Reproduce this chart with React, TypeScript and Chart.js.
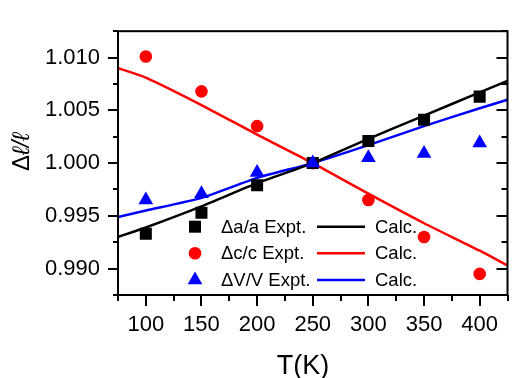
import React, { useEffect, useRef } from 'react';
import { Chart, registerables } from 'chart.js';

Chart.register(...registerables);

const FONT = '"Liberation Sans", Arial, sans-serif';

const temps = [100, 150, 200, 250, 300, 350, 400];
const daExpt = [0.9933, 0.9953, 0.9979, 1.0, 1.0021, 1.0041, 1.0063];
const dcExpt = [1.0101, 1.0068, 1.0035, 1.0, 0.9965, 0.993, 0.9895];
const dvExpt = [0.9965, 0.9971, 0.9991, 1.0, 1.0005, 1.0009, 1.0019];

const calcT = [75, 100, 150, 200, 250, 300, 350, 400, 425];
const daCalc = [0.993, 0.9939, 0.9959, 0.9981, 1.0, 1.0023, 1.0045, 1.0067, 1.0078];
const dcCalc = [1.009, 1.0081, 1.0055, 1.0027, 1.0, 0.9971, 0.9943, 0.9917, 0.9903];
const dvCalc = [0.9949, 0.9955, 0.9967, 0.9986, 1.0, 1.0017, 1.0035, 1.0052, 1.006];

const xTicks = [100, 150, 200, 250, 300, 350, 400];
const yTicks = [0.99, 0.995, 1.0, 1.005, 1.01];
const exptLabels = ['Δa/a Expt.', 'Δc/c Expt.', 'ΔV/V Expt.'];
const calcLabel = 'Calc.';
const xTitle = 'T(K)';

const colors = ['#000000', '#ff0000', '#0000ff'];
const shapes = ['rect', 'circle', 'triangle'];

const pts = (xs: number[], ys: number[]) => xs.map((x, i) => ({ x, y: ys[i] }));

function drawShape(ctx: CanvasRenderingContext2D, shape: string, x: number, y: number, color: string) {
  ctx.fillStyle = color;
  ctx.beginPath();
  if (shape === 'rect') {
    ctx.rect(x - 6, y - 6, 12, 12);
  } else if (shape === 'circle') {
    ctx.arc(x, y, 6.3, 0, Math.PI * 2);
  } else {
    const r = 8.5;
    ctx.moveTo(x, y - r);
    ctx.lineTo(x + r * 0.866, y + r / 2);
    ctx.lineTo(x - r * 0.866, y + r / 2);
    ctx.closePath();
  }
  ctx.fill();
}

const decorPlugin = {
  id: 'decor',
  afterDraw(chart: any) {
    const { ctx, chartArea: a, scales } = chart;
    const xs = scales.x;
    const ys = scales.y;
    ctx.save();
    ctx.strokeStyle = '#000';
    ctx.lineWidth = 2;
    ctx.strokeRect(a.left, a.top, a.right - a.left, a.bottom - a.top);
    ctx.beginPath();
    for (let v = 75; v <= 425; v += 25) {
      const px = Math.round(xs.getPixelForValue(v));
      const major = v % 50 === 0;
      ctx.moveTo(px, a.bottom);
      ctx.lineTo(px, a.bottom + (major ? 11 : 6));
    }
    for (let i = 0; i <= 10; i++) {
      const v = 0.9875 + i * 0.0025;
      const py = Math.round(ys.getPixelForValue(v));
      const major = i % 2 === 1;
      ctx.moveTo(a.left, py);
      ctx.lineTo(a.left - (major ? 10 : 5), py);
      ctx.moveTo(a.right, py);
      ctx.lineTo(a.right - (major ? 11 : 6), py);
    }
    ctx.stroke();

    // legend
    const rowY = [226.7, 253.3, 280];
    ctx.font = `18.5px ${FONT}`;
    ctx.textBaseline = 'middle';
    ctx.textAlign = 'left';
    for (let i = 0; i < 3; i++) {
      drawShape(ctx, shapes[i], 195, rowY[i], colors[i]);
      ctx.fillStyle = '#000';
      ctx.fillText(exptLabels[i], 221, rowY[i] + 1);
      ctx.strokeStyle = colors[i];
      ctx.lineWidth = 2.5;
      ctx.beginPath();
      ctx.moveTo(317, rowY[i]);
      ctx.lineTo(365, rowY[i]);
      ctx.stroke();
      ctx.fillStyle = '#000';
      ctx.fillText(calcLabel, 375, rowY[i] + 1);
    }

    // x title
    ctx.font = `27px ${FONT}`;
    ctx.textAlign = 'center';
    ctx.textBaseline = 'alphabetic';
    ctx.fillStyle = '#000';
    ctx.fillText(xTitle, 303, 374);

    // y title
    ctx.translate(29, 152);
    ctx.rotate(-Math.PI / 2);
    ctx.textAlign = 'left';
    const f1 = `24px ${FONT}`;
    const f2 = `italic 24px ${FONT}`;
    ctx.font = f1;
    const w1 = ctx.measureText('Δ').width;
    ctx.font = f2;
    const w2 = ctx.measureText('ℓ/ℓ').width;
    const start = -(w1 + w2) / 2;
    ctx.font = f1;
    ctx.fillText('Δ', start, 0);
    ctx.font = f2;
    ctx.fillText('ℓ/ℓ', start + w1, 0);
    ctx.restore();
  },
};

export default function App() {
  const ref = useRef<HTMLCanvasElement | null>(null);
  useEffect(() => {
    document.body.style.margin = '0';
    const canvas = ref.current;
    if (!canvas) return;
    const lineDs = (data: number[], color: string, width: number) => ({
      type: 'line',
      data: pts(calcT, data),
      borderColor: color,
      backgroundColor: color,
      borderWidth: width,
      pointRadius: 0,
      showLine: true,
      tension: 0.2,
      fill: false,
      order: 3,
    });
    const ptDs = (data: number[], i: number, radius: number) => ({
      type: 'scatter',
      data: pts(temps, data),
      backgroundColor: colors[i],
      borderColor: colors[i],
      borderWidth: 0,
      pointStyle: shapes[i],
      pointRadius: radius,
      showLine: false,
      order: i === 2 ? 0 : 1,
    });
    const chart = new Chart(canvas, {
      type: 'scatter',
      data: {
        datasets: [
          lineDs(daCalc, colors[0], 2.5),
          lineDs(dcCalc, colors[1], 2.5),
          lineDs(dvCalc, colors[2], 2.5),
          ptDs(daExpt, 0, 8.5),
          ptDs(dcExpt, 1, 6.3),
          ptDs(dvExpt, 2, 8.5),
        ] as any,
      },
      options: {
        animation: false,
        responsive: true,
        maintainAspectRatio: false,
        layout: { padding: { top: 12, right: 8, left: 0, bottom: 0 } },
        plugins: { legend: { display: false }, tooltip: { enabled: false } },
        scales: {
          x: {
            type: 'linear',
            min: 75,
            max: 425,
            grid: { display: false, drawTicks: false },
            border: { display: false },
            afterBuildTicks: (s: any) => {
              s.ticks = xTicks.map((v) => ({ value: v }));
            },
            afterFit: (s: any) => {
              s.height = 83;
            },
            ticks: {
              autoSkip: false,
              maxRotation: 0,
              padding: 17,
              color: '#000',
              font: { family: FONT, size: 22 },
              callback: (v: any) => String(v),
            },
          },
          y: {
            type: 'linear',
            min: 0.9875,
            max: 1.0125,
            grid: { display: false, drawTicks: false },
            border: { display: false },
            afterBuildTicks: (s: any) => {
              s.ticks = yTicks.map((v) => ({ value: v }));
            },
            afterFit: (s: any) => {
              s.width = 118;
            },
            ticks: {
              autoSkip: false,
              padding: 18,
              color: '#000',
              font: { family: FONT, size: 22 },
              callback: (v: any) => Number(v).toFixed(3),
            },
          },
        },
      },
      plugins: [decorPlugin],
    } as any);
    return () => chart.destroy();
  }, []);
  return (
    <div style={{ width: 516, height: 378, position: 'relative' }}>
      <canvas ref={ref} />
    </div>
  );
}
